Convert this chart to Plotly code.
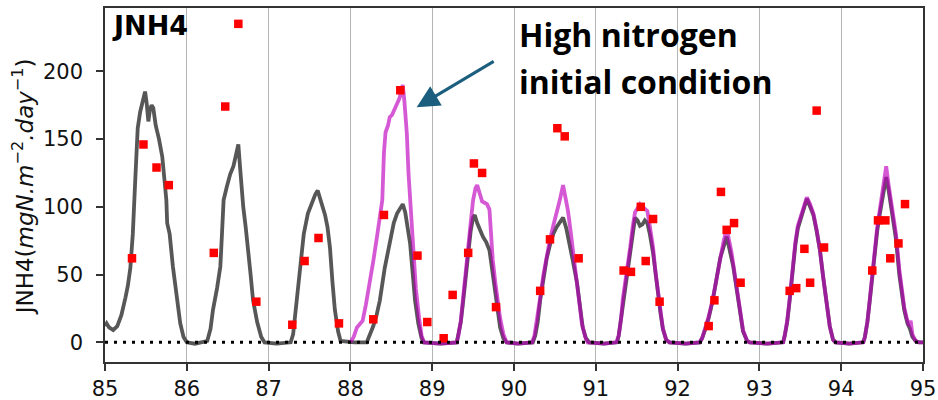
import plotly.graph_objects as go

# ---- simulated JNH4 flux, reference run (days 85-95) ----
ref_day = [
    85.00, 85.02, 85.05, 85.10, 85.15, 85.20, 85.25, 85.28, 85.31, 85.34, 85.37, 85.40, 85.43, 85.46,
    85.49, 85.51, 85.53, 85.55, 85.57, 85.59, 85.62, 85.66, 85.70, 85.73, 85.75, 85.76, 85.79, 85.83,
    85.88, 85.92, 85.96, 86.00, 86.10, 86.20, 86.25,
    86.29, 86.32, 86.37, 86.41, 86.43, 86.45, 86.49, 86.53, 86.57, 86.60, 86.63, 86.65, 86.67, 86.69,
    86.72, 86.75, 86.78, 86.81, 86.86, 86.91, 86.95, 87.10, 87.27,
    87.30, 87.34, 87.38, 87.43, 87.48, 87.51, 87.54, 87.57, 87.60, 87.63, 87.66, 87.69, 87.72, 87.75,
    87.78, 87.81, 87.85, 87.88, 88.05, 88.20,
    88.22, 88.28, 88.32, 88.36, 88.42, 88.48, 88.53, 88.57, 88.61, 88.64, 88.67, 88.70, 88.73, 88.76,
    88.79, 88.83, 88.87, 88.90, 89.10, 89.30,
    89.32, 89.35, 89.38, 89.41, 89.44, 89.47, 89.50, 89.52, 89.55, 89.58, 89.62, 89.66, 89.70, 89.73,
    89.77, 89.80, 89.83, 89.87, 89.91, 90.05, 90.23,
    90.26, 90.29, 90.32, 90.36, 90.40, 90.44, 90.48, 90.52, 90.56, 90.60, 90.64, 90.68, 90.72, 90.77,
    90.81, 90.84, 90.88, 90.92, 91.10, 91.26,
    91.28, 91.31, 91.33, 91.38, 91.42, 91.45, 91.48, 91.51, 91.54, 91.57, 91.60, 91.63, 91.66, 91.70,
    91.73, 91.76, 91.79, 91.82, 91.86, 91.90, 92.10, 92.27,
    92.30, 92.34, 92.38, 92.43, 92.48, 92.52, 92.56, 92.60, 92.63, 92.66, 92.68, 92.71, 92.74, 92.77,
    92.80, 92.85, 92.88, 93.10, 93.29,
    93.31, 93.34, 93.37, 93.41, 93.44, 93.47, 93.50, 93.54, 93.58, 93.62, 93.66, 93.70, 93.74, 93.78,
    93.82, 93.86, 93.90, 93.93, 94.10, 94.27,
    94.29, 94.32, 94.35, 94.38, 94.41, 94.44, 94.47, 94.50, 94.53, 94.55, 94.58, 94.61, 94.64, 94.67,
    94.71, 94.74, 94.77, 94.81, 94.84, 94.87, 94.91, 94.95, 95.00,
]
ref_jnh4 = [
    12, 14, 11, 9, 12, 20, 33, 42, 55, 80, 120, 158, 170, 178,
    185, 176, 163, 172, 175, 173, 160, 150, 137, 118, 105, 88, 80, 56,
    30, 14, 4, 0, -1, 0, 1,
    10, 24, 40, 56, 80, 105, 115, 124, 130, 138, 146, 130, 110, 100,
    85, 70, 50, 31, 15, 4, 0, -1, 0,
    6, 30, 56, 80, 95, 100, 106, 109, 112, 106, 100, 94, 85, 70,
    45, 24, 8, 1, 0, 0,
    3, 12, 20, 31, 55, 75, 88, 95, 99, 102, 96, 86, 73, 52,
    31, 14, 3, 0, -1, 0,
    5, 15, 31, 50, 68, 82, 92, 94, 88, 83, 78, 74, 68, 55,
    36, 22, 11, 3, 0, -1, 0,
    5, 15, 31, 48, 62, 72, 80, 85, 89, 92, 84, 73, 60, 44,
    25, 11, 3, 0, -1, 0,
    5, 18, 31, 50, 68, 83, 92, 90, 86, 87, 90, 88, 80, 66,
    50, 36, 22, 10, 2, 0, -1, 0,
    3, 10, 18, 31, 47, 62, 70, 78, 70, 62, 56, 44, 31, 18,
    8, 1, 0, -1, 0,
    5, 15, 31, 55, 72, 84, 90, 100, 106, 100, 94, 82, 68, 48,
    28, 12, 2, 0, -1, 0,
    4, 15, 31, 50, 66, 82, 94, 105, 115, 122, 112, 100, 86, 76,
    50, 36, 24, 14, 10, 4, 1, 0, 0,
]

# ---- simulated JNH4 flux, high nitrogen initial condition (from day 88) ----
hin_day = [
    88.00, 88.04, 88.08, 88.12, 88.15, 88.19, 88.24, 88.28, 88.33, 88.37, 88.39, 88.41, 88.43, 88.46,
    88.48, 88.51, 88.54, 88.57, 88.60, 88.64, 88.66, 88.69, 88.71, 88.73, 88.75, 88.77, 88.80, 88.84,
    88.87, 88.90, 89.10, 89.30,
    89.32, 89.35, 89.38, 89.41, 89.44, 89.47, 89.50, 89.53, 89.55, 89.58, 89.61, 89.64, 89.67, 89.70,
    89.72, 89.74, 89.77, 89.80, 89.83, 89.87, 89.91, 90.05, 90.22,
    90.25, 90.28, 90.32, 90.36, 90.40, 90.44, 90.48, 90.52, 90.56, 90.60, 90.63, 90.66, 90.69, 90.72,
    90.76, 90.80, 90.83, 90.87, 90.90, 91.10, 91.25,
    91.28, 91.31, 91.33, 91.38, 91.42, 91.45, 91.48, 91.51, 91.54, 91.57, 91.60, 91.63, 91.66, 91.70,
    91.73, 91.76, 91.79, 91.82, 91.86, 91.90, 92.10, 92.27,
    92.30, 92.34, 92.38, 92.43, 92.48, 92.52, 92.56, 92.60, 92.63, 92.66, 92.68, 92.71, 92.74, 92.77,
    92.80, 92.85, 92.88, 93.10, 93.29,
    93.31, 93.34, 93.37, 93.41, 93.44, 93.47, 93.50, 93.54, 93.58, 93.62, 93.66, 93.70, 93.74, 93.78,
    93.82, 93.86, 93.90, 93.93, 94.10, 94.27,
    94.29, 94.32, 94.35, 94.38, 94.41, 94.44, 94.47, 94.50, 94.53, 94.55, 94.58, 94.61, 94.64, 94.67,
    94.71, 94.74, 94.77, 94.80, 94.83, 94.85, 94.87, 94.91, 94.95, 95.00,
]
hin_jnh4 = [
    0, 4, 11, 14, 16, 28, 44, 60, 80, 95, 105, 140, 155, 160,
    166, 168, 173, 176, 180, 190, 178, 154, 125, 105, 80, 65, 40, 18,
    5, 0, -1, 0,
    5, 16, 32, 52, 70, 88, 105, 114, 116, 110, 104, 103, 102, 98,
    80, 61, 45, 30, 18, 6, 0, -1, 0,
    5, 16, 33, 50, 64, 76, 86, 95, 105, 116, 108, 97, 83, 68,
    48, 28, 14, 4, 0, -1, 0,
    5, 18, 32, 52, 70, 85, 96, 99, 102, 100, 98, 97, 86, 70,
    52, 36, 22, 10, 2, 0, -1, 0,
    3, 10, 19, 32, 49, 64, 74, 84, 76, 66, 58, 46, 32, 19,
    9, 1, 0, -1, 0,
    5, 16, 32, 57, 74, 86, 92, 101, 107, 102, 95, 83, 68, 48,
    28, 12, 2, 0, -1, 0,
    4, 15, 32, 52, 68, 85, 97, 108, 120, 130, 116, 104, 90, 80,
    54, 38, 26, 18, 12, 16, 6, 1, 0, 0,
]

# ---- observed JNH4 fluxes ----
obs_day = [
    85.33, 85.47, 85.63, 85.78,
    86.33, 86.47, 86.63, 86.85,
    87.29, 87.44, 87.61, 87.86,
    88.28, 88.41, 88.61, 88.82, 88.94,
    89.14, 89.25, 89.44, 89.51, 89.61, 89.78,
    90.32, 90.44, 90.53, 90.62, 90.79,
    91.34, 91.43, 91.55, 91.61, 91.70, 91.78,
    92.38, 92.45, 92.53, 92.60, 92.69, 92.77,
    93.37, 93.45, 93.55, 93.62, 93.70, 93.79,
    94.38, 94.45, 94.54, 94.60, 94.70, 94.78,
]
obs_jnh4 = [
    62, 146, 129, 116,
    66, 174, 235, 30,
    13, 60, 77, 14,
    17, 94, 186, 64, 15,
    3, 35, 66, 132, 125, 26,
    38, 76, 158, 152, 62,
    53, 52, 100, 60, 91, 30,
    12, 31, 111, 83, 88, 44,
    38, 40, 69, 44, 171, 70,
    53, 90, 90, 62, 73, 102,
]

day_ticks = list(range(85, 96))
flux_ticks = [0, 50, 100, 150, 200]

tick_font = dict(family="DejaVu Sans", size=21, color="#111111")

fig = go.Figure()
fig.add_trace(go.Scatter(
    x=ref_day, y=ref_jnh4, mode="lines",
    line=dict(color="#575757", width=3.8), showlegend=False,
))
fig.add_trace(go.Scatter(
    x=hin_day, y=hin_jnh4, mode="lines",
    line=dict(color="rgba(191,0,191,0.65)", width=3.8), showlegend=False,
))
fig.add_trace(go.Scatter(
    x=obs_day, y=obs_jnh4, mode="markers",
    marker=dict(symbol="square", size=8.5, color="#ff0000", line=dict(width=0)),
    showlegend=False,
))

# dotted zero reference line
fig.add_shape(type="line", xref="paper", x0=0, x1=1, yref="y", y0=0, y1=0,
              line=dict(color="black", width=3, dash="3px,6px"), layer="above")

fig.update_xaxes(
    range=[85, 95], tickvals=day_ticks, ticktext=[str(d) for d in day_ticks],
    showgrid=True, gridcolor="#b4b4b4", gridwidth=1.2,
    showline=True, linecolor="#333333", linewidth=1.5, mirror=True,
    ticks="outside", ticklen=7, tickwidth=1.5, tickcolor="#333333",
    tickfont=tick_font, zeroline=False, automargin=False,
)
fig.update_yaxes(
    range=[-14.5, 246.7], tickvals=flux_ticks, ticktext=[str(v) for v in flux_ticks],
    showgrid=False, showline=True, linecolor="#333333", linewidth=1.5, mirror=True,
    ticks="outside", ticklen=7, tickwidth=1.5, tickcolor="#333333",
    tickfont=tick_font, zeroline=False, automargin=False, ticklabelstandoff=9,
)

callout_font = dict(family="Open Sans", size=32, color="black")
annotations = [
    # panel label
    dict(text="<b>JNH4</b>", xref="paper", yref="paper", x=0.006, y=1.0,
         xanchor="left", yanchor="top", showarrow=False,
         font=dict(family="DejaVu Sans", size=27, color="black")),
    # y-axis title
    dict(text="JNH4(<i>mgN.m</i><sup>−2</sup><i>.day</i><sup>−1</sup>)",
         xref="paper", yref="paper", x=-0.1, y=0.494, textangle=-90,
         xanchor="center", yanchor="middle", showarrow=False,
         font=dict(family="DejaVu Sans", size=23, color="#111111")),
    # callout text
    dict(text="<b>High nitrogen</b>", xref="paper", yref="paper", x=0.5037, y=0.924,
         xanchor="left", yanchor="middle", showarrow=False, font=callout_font),
    dict(text="<b>initial condition</b>", xref="paper", yref="paper", x=0.5037, y=0.791,
         xanchor="left", yanchor="middle", showarrow=False, font=callout_font),
    # callout arrow
    dict(text="", x=88.81, y=173.4, xref="x", yref="y",
         ax=89.77, ay=208, axref="x", ayref="y",
         showarrow=True, arrowhead=2, arrowsize=1.5, arrowwidth=3,
         arrowcolor="#1b5e7e"),
]

fig.update_layout(
    width=938, height=400,
    margin=dict(l=105, r=15, t=8, b=38),
    paper_bgcolor="white", plot_bgcolor="white",
    annotations=annotations,
)

fig.write_html("out.html")
